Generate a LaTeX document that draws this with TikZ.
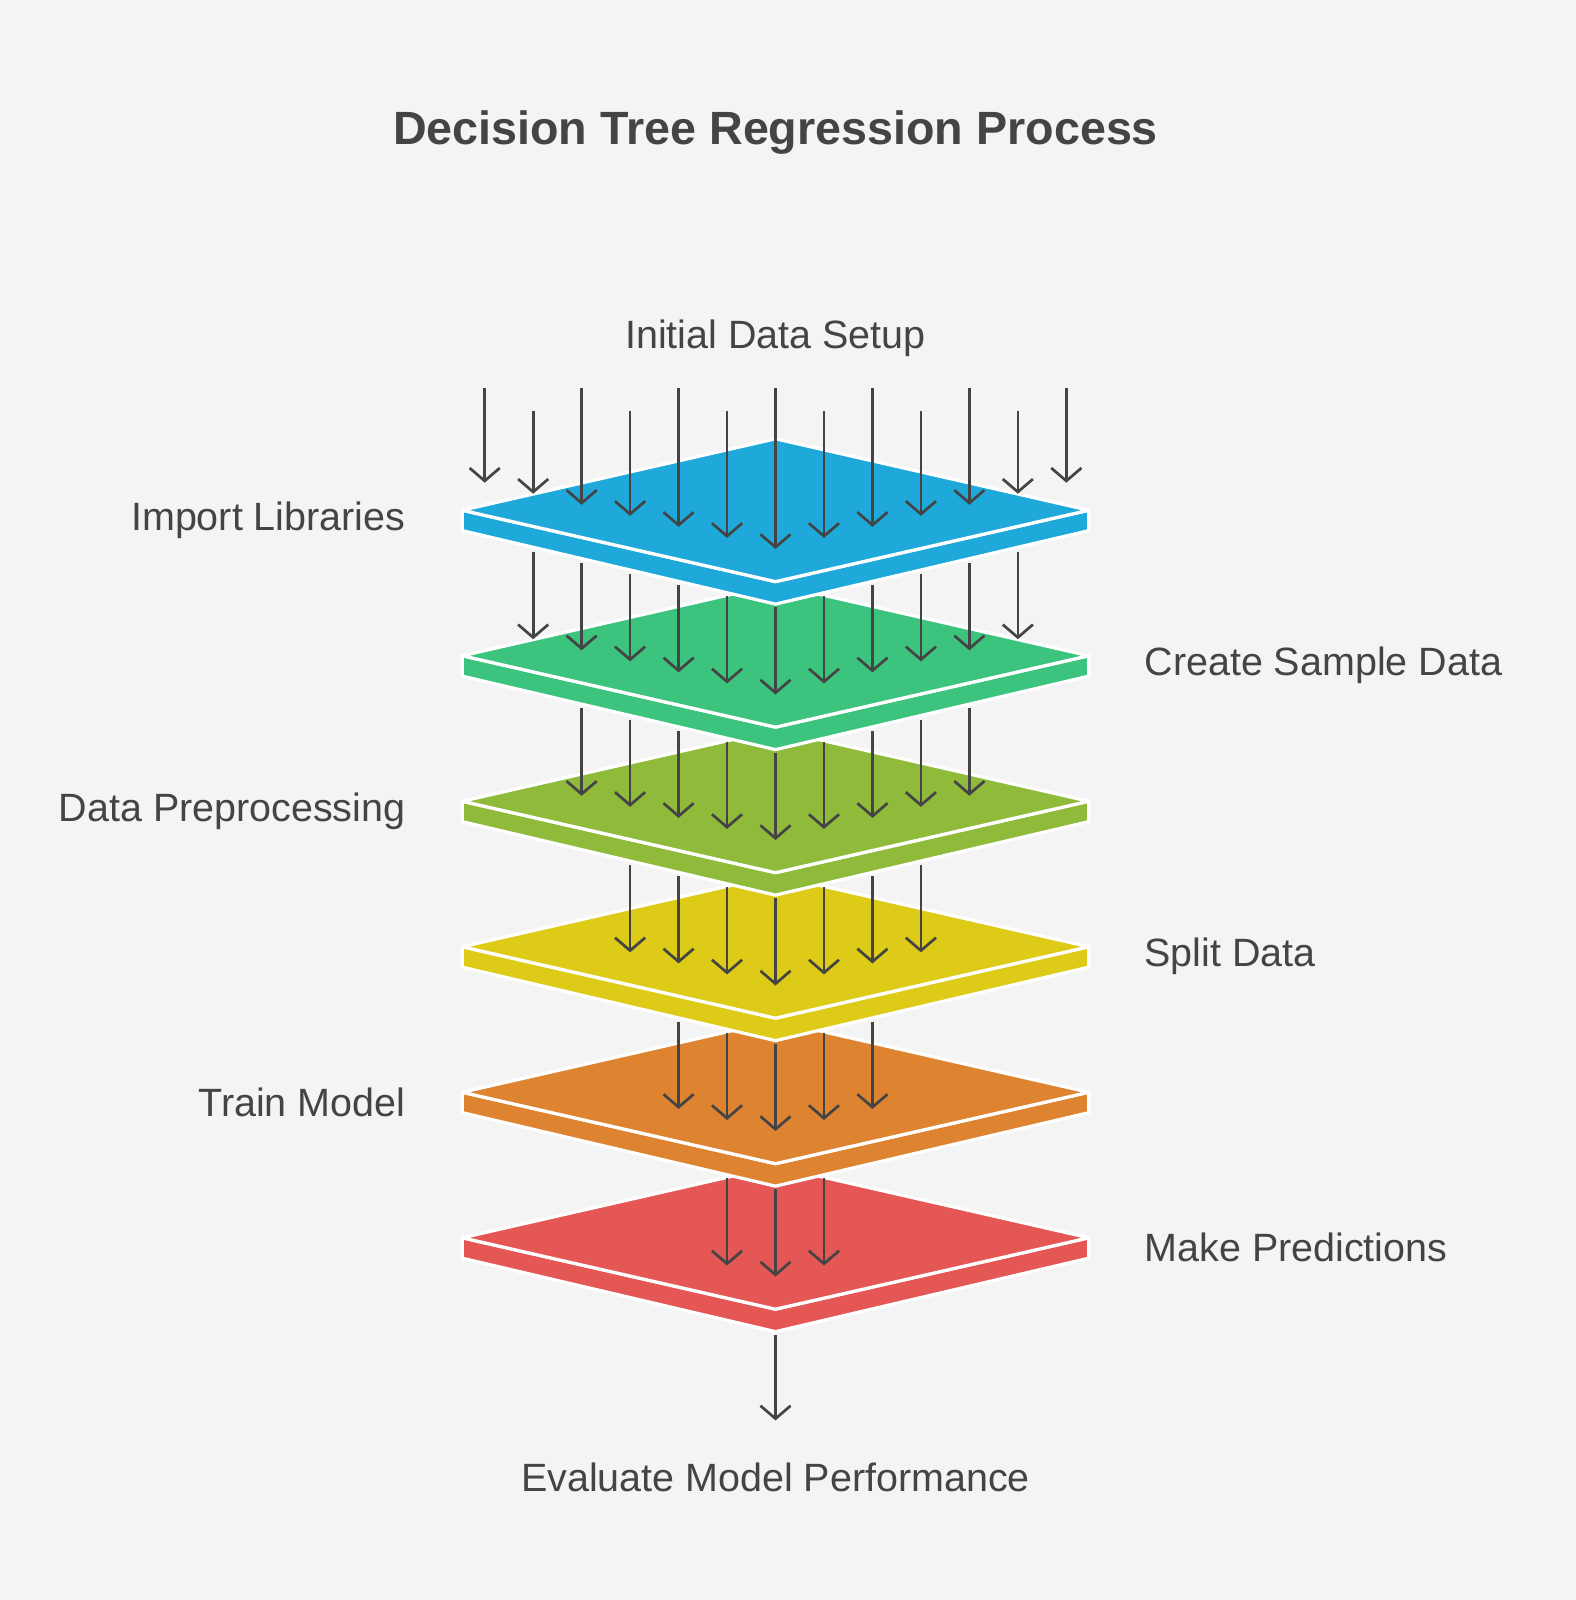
\documentclass[tikz,border=0pt]{standalone}
\usepackage{fontspec}
\setmainfont{Liberation Sans}
\usetikzlibrary{arrows.meta}
\definecolor{bgc}{HTML}{F4F4F4}
\definecolor{ink}{HTML}{444444}
\definecolor{cA}{HTML}{1EA9DA}
\definecolor{cB}{HTML}{3CC47E}
\definecolor{cC}{HTML}{8FBA3A}
\definecolor{cD}{HTML}{DDCB17}
\definecolor{cE}{HTML}{DE8430}
\definecolor{cF}{HTML}{E45755}
\tikzset{
  flow/.style={draw=ink, line width=0.75pt, -{Straight Barb[length=3.6pt,width=8.4pt,line width=0.75pt]}},
  layer/.style={fill=#1, draw=white, line width=0.9pt, line join=round},
  lbl/.style={font=\fontsize{11pt}{13pt}\selectfont, text=ink, inner sep=0pt}
}
\begin{document}
\begin{tikzpicture}[x=0.01cm, y=-0.01cm]
  \fill[bgc] (0,0) rectangle (1544,1568);
  \useasboundingbox (0,0) rectangle (1544,1568);

  %% title
  \node[lbl, font=\fontsize{13pt}{15pt}\selectfont\bfseries] (title) at (760,130) {Decision Tree Regression Process};

  %% layers, bottom one first
  \foreach \k/\c in {6/cF, 5/cE, 4/cD, 3/cC, 2/cB, 1/cA} {
    \pgfmathsetmacro{\Y}{500+142.6*(\k-1)}
    \pgfmathsetmacro{\P}{500+142.6*(\k-2)}
    \pgfmathtruncatemacro{\m}{7-\k}
    \draw[layer=\c] (453,\Y) -- (453,\Y+20) -- (760,\Y+92) -- (1067,\Y+20) -- (1067,\Y) -- (760,\Y+70) -- cycle;
    \draw[layer=\c] (760,\Y-70) -- (1067,\Y) -- (760,\Y+70) -- (453,\Y) -- cycle;
    \foreach \i in {-\m,...,\m} {
      \pgfmathsetmacro{\dx}{abs(\i)*47.5}
      \pgfmathsetmacro{\x}{760+\i*47.5}
      \ifnum\k=1
        \pgfmathsetmacro{\s}{isodd(\i) ? 403 : 380}
      \else
        \pgfmathsetmacro{\s}{\P+95-0.228*\dx}
      \fi
      \coordinate (s\k\i) at (\x,\s);
      \coordinate (e\k\i) at (\x,\Y+38-0.228*\dx);
      \draw[flow] (s\k\i) -- (e\k\i);
    }
  }

  %% labels
  \node[lbl] (init) at (760,332) {Initial Data Setup};
  \node[lbl, anchor=east] (imp) at (398,510) {Import Libraries};
  \node[lbl, anchor=west] (smp) at (1121,652) {Create Sample Data};
  \node[lbl, anchor=east] (pre) at (398,795) {Data Preprocessing};
  \node[lbl, anchor=west] (spl) at (1121,937) {Split Data};
  \node[lbl, anchor=east] (trn) at (398,1080) {Train Model};
  \node[lbl, anchor=west] (prd) at (1121,1222) {Make Predictions};
  \node[lbl] (eval) at (760,1448) {Evaluate Model Performance};

  %% out
  \coordinate (out) at (760,1308);
  \draw[flow] (out) -- ++(0,84);
\end{tikzpicture}
\end{document}
